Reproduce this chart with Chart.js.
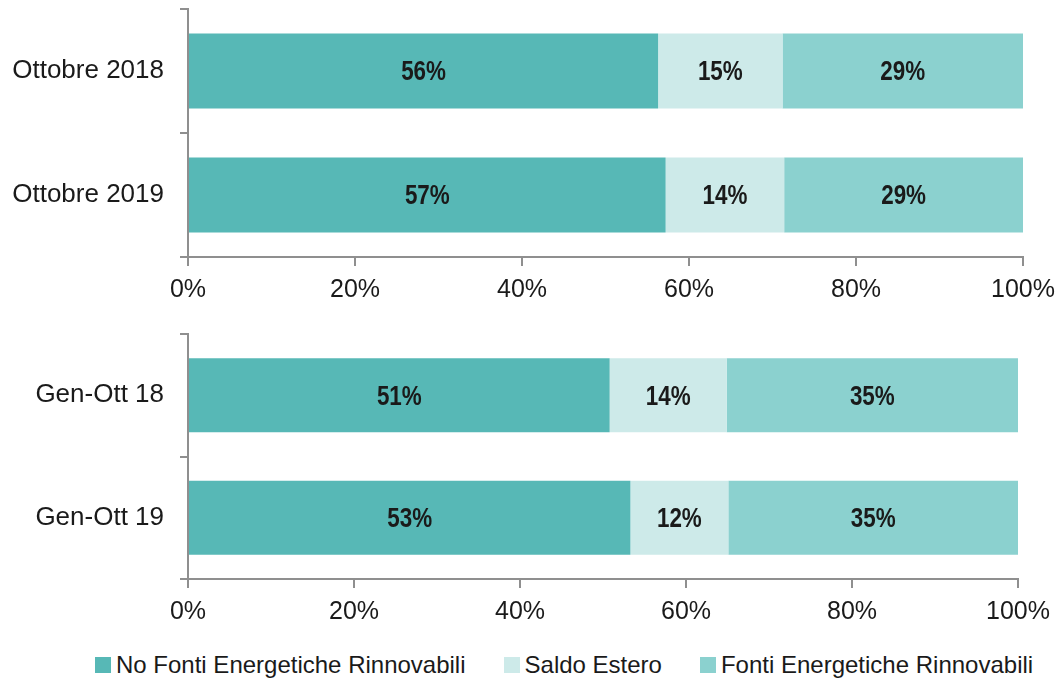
<!DOCTYPE html>
<html>
<head>
<meta charset="utf-8">
<script src="https://cdn.jsdelivr.net/npm/chart.js@4/dist/chart.umd.min.js"></script>
<style>
  html, body { margin: 0; padding: 0; background: #ffffff; }
  body { width: 1060px; height: 681px; position: relative; overflow: hidden; }
  .wrap { position: absolute; left: 0; width: 1060px; }
  #w1 { top: 0; height: 310px; }
  #w2 { top: 320px; height: 320px; }
  #legend { position: absolute; top: 650px; left: 95px; height: 30px; display: flex; align-items: center;
            font-family: 'Liberation Sans', Arial, sans-serif; font-size: 24px; color: #1a1a1a; white-space: nowrap; }
  .item { display: flex; align-items: center; margin-right: 38px; }
  .sw { width: 16px; height: 16px; margin-right: 5px; }
</style>
</head>
<body>
<div class="wrap" id="w1"><canvas id="c1" width="1060" height="310"></canvas></div>
<div class="wrap" id="w2"><canvas id="c2" width="1060" height="320"></canvas></div>
<div id="legend"></div>
<script>
// ---- data ----
const categoriesTop = ['Ottobre 2018', 'Ottobre 2019'];
const categoriesBottom = ['Gen-Ott 18', 'Gen-Ott 19'];
const seriesNames = ['No Fonti Energetiche Rinnovabili', 'Saldo Estero', 'Fonti Energetiche Rinnovabili'];
const seriesColors = ['#57b8b6', '#cdeae9', '#8bd1cf'];
const noFerTop = [56.3, 57.2];
const saldoTop = [14.9, 14.2];
const ferTop = [28.8, 28.6];
const noFerBottom = [50.8, 53.3];
const saldoBottom = [14.1, 11.8];
const ferBottom = [35.1, 34.9];
const xTicks = [0, 20, 40, 60, 80, 100];

const axisColor = '#8f8f8f';
const textColor = '#1a1a1a';

const dataLabelPlugin = {
  id: 'segLabels',
  afterDatasetsDraw(chart) {
    const ctx = chart.ctx;
    chart.data.datasets.forEach((ds, di) => {
      const meta = chart.getDatasetMeta(di);
      meta.data.forEach((el, i) => {
        const v = ds.data[i];
        const cx = (el.x + el.base) / 2;
        ctx.save();
        ctx.font = "bold 27px 'Liberation Sans', Arial, sans-serif";
        ctx.fillStyle = textColor;
        ctx.textAlign = 'center';
        ctx.textBaseline = 'middle';
        ctx.translate(cx, el.y + 2);
        ctx.scale(0.83, 1);
        ctx.fillText(Math.round(v) + '%', 0, 0);
        ctx.restore();
      });
    });
  }
};

function makeChart(canvasId, labels, vals, pad, xHeight) {
  const datasets = vals.map((arr, k) => ({
    label: seriesNames[k],
    data: arr,
    backgroundColor: seriesColors[k],
    borderWidth: 0,
    barPercentage: 1.0,
    categoryPercentage: 0.605
  }));
  return new Chart(document.getElementById(canvasId), {
    type: 'bar',
    data: { labels: labels, datasets: datasets },
    plugins: [dataLabelPlugin],
    options: {
      indexAxis: 'y',
      responsive: false,
      animation: false,
      layout: { padding: pad },
      plugins: { legend: { display: false }, tooltip: { enabled: false } },
      scales: {
        x: {
          stacked: true,
          min: 0, max: 100,
          afterBuildTicks(scale) { scale.ticks = xTicks.map(v => ({ value: v })); },
          afterFit(scale) { scale.height = xHeight; scale.paddingLeft = 0; scale.paddingRight = 0; },
          grid: { drawOnChartArea: false, drawTicks: true, tickLength: 9, color: axisColor, lineWidth: 2 },
          border: { display: true, color: axisColor, width: 2 },
          ticks: {
            color: textColor, padding: 9, maxRotation: 0, autoSkip: false,
            font: { family: "'Liberation Sans', Arial, sans-serif", size: 25 },
            callback: v => v + '%'
          }
        },
        y: {
          stacked: true,
          afterFit(scale) { scale.width = 188; scale.paddingTop = 0; scale.paddingBottom = 0; },
          grid: { drawOnChartArea: false, drawTicks: true, tickLength: 8, color: axisColor, lineWidth: 2, offset: true },
          border: { display: true, color: axisColor, width: 2 },
          ticks: {
            color: textColor, padding: 16,
            font: { family: "'Liberation Sans', Arial, sans-serif", size: 26 }
          }
        }
      }
    }
  });
}

makeChart('c1', categoriesTop, [noFerTop, saldoTop, ferTop], { top: 9, left: 0, right: 37, bottom: 0 }, 53);
makeChart('c2', categoriesBottom, [noFerBottom, saldoBottom, ferBottom], { top: 14, left: 0, right: 42, bottom: 0 }, 61);

const leg = document.getElementById('legend');
seriesNames.forEach((n, k) => {
  const it = document.createElement('div');
  it.className = 'item';
  const sw = document.createElement('div');
  sw.className = 'sw';
  sw.style.background = seriesColors[k];
  const tx = document.createElement('span');
  tx.textContent = n;
  it.appendChild(sw); it.appendChild(tx);
  leg.appendChild(it);
});
</script>
</body>
</html>
